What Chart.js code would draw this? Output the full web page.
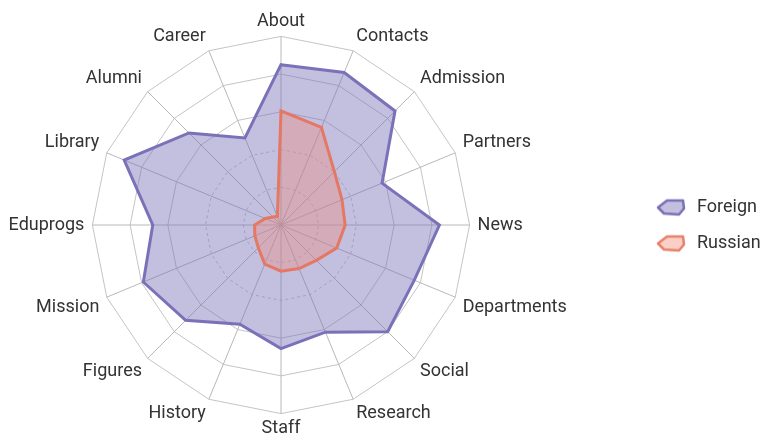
<!DOCTYPE html>
<html>
<head>
<meta charset="utf-8">
<script src="https://cdn.jsdelivr.net/npm/chart.js@4"></script>
<style>
  html, body { margin: 0; padding: 0; background: #fff; }
  #wrap { width: 764px; height: 437px; }
</style>
</head>
<body>
<div id="wrap"><canvas id="radar"></canvas></div>
<script>
// Categories (clockwise from the top)
const categories = ['About', 'Contacts', 'Admission', 'Partners', 'News', 'Departments', 'Social', 'Research',
    'Staff', 'History', 'Figures', 'Mission', 'Eduprogs', 'Library', 'Alumni', 'Career'];

// Series values, percent of the outer ring
const foreignValues = [85, 87.5, 85.5, 58, 84, 76.5, 80, 61.5, 65.5, 57, 71.5, 79, 68, 90, 69, 50];
const russianValues = [60.5, 56, 40, 35, 34, 32, 26.5, 25, 24.5, 22.5, 17, 15, 14, 9, 6, 5];

const seriesNames = ['Foreign', 'Russian'];
const ringTicks = [0, 20, 40, 60, 80, 100];

const FONT = "Roboto, 'Liberation Sans', sans-serif";
const ICON_W = 93;

// legend icon: wide canvas, polygon drawn at its right end
function legendIcon(fill, stroke) {
    const c = document.createElement('canvas');
    c.width = ICON_W;
    c.height = 20;
    const g = c.getContext('2d');
    const o = ICON_W - 32;
    g.beginPath();
    g.moveTo(o + 2, 10);
    g.lineTo(o + 11, 3);
    g.lineTo(o + 27, 3);
    g.lineTo(o + 28, 11);
    g.lineTo(o + 23, 17);
    g.lineTo(o + 8, 16);
    g.closePath();
    g.fillStyle = fill;
    g.fill();
    g.lineWidth = 2.5;
    g.lineJoin = 'round';
    g.strokeStyle = stroke;
    g.stroke();
    return c;
}

const foreignIcon = legendIcon('rgb(195,191,223)', 'rgb(122,113,184)');
const russianIcon = legendIcon('rgb(250,208,198)', 'rgb(232,128,108)');

const ctx = document.getElementById('radar').getContext('2d');
new Chart(ctx, {
    type: 'radar',
    data: {
        labels: categories,
        datasets: [{
            label: seriesNames[0],
            data: foreignValues,
            order: 1,
            borderColor: 'rgb(122,113,184)',
            backgroundColor: 'rgba(122,113,184,0.45)',
            borderWidth: 3,
            pointRadius: 0,
            fill: true,
            pointStyle: foreignIcon
        }, {
            label: seriesNames[1],
            data: russianValues,
            order: 0,
            borderColor: 'rgb(228,120,100)',
            backgroundColor: 'rgba(240,140,120,0.38)',
            borderWidth: 3,
            pointRadius: 0,
            fill: true,
            pointStyle: russianIcon
        }]
    },
    options: {
        responsive: true,
        maintainAspectRatio: false,
        animation: false,
        layout: { padding: { left: 0, right: 0, top: 14, bottom: 0 } },
        plugins: {
            legend: {
                position: 'right',
                align: 'center',
                maxWidth: 187,
                labels: {
                    usePointStyle: true,
                    pointStyleWidth: ICON_W,
                    padding: 18,
                    color: '#333',
                    font: { family: FONT, size: 18 },
                    sort: (a, b) => a.datasetIndex - b.datasetIndex
                }
            },
            tooltip: { enabled: false }
        },
        scales: {
            r: {
                min: ringTicks[0],
                max: ringTicks[ringTicks.length - 1],
                ticks: { display: false, stepSize: 20 },
                grid: { color: '#c4c4c4', lineWidth: 1 },
                border: {
                    dash: (c) => (c.index <= 2 ? [3, 3] : [])
                },
                angleLines: { color: '#b8b8b8', lineWidth: 1 },
                pointLabels: {
                    color: '#333',
                    padding: 8,
                    font: { family: FONT, size: 18, lineHeight: 0.8 }
                }
            }
        }
    }
});
</script>
</body>
</html>
